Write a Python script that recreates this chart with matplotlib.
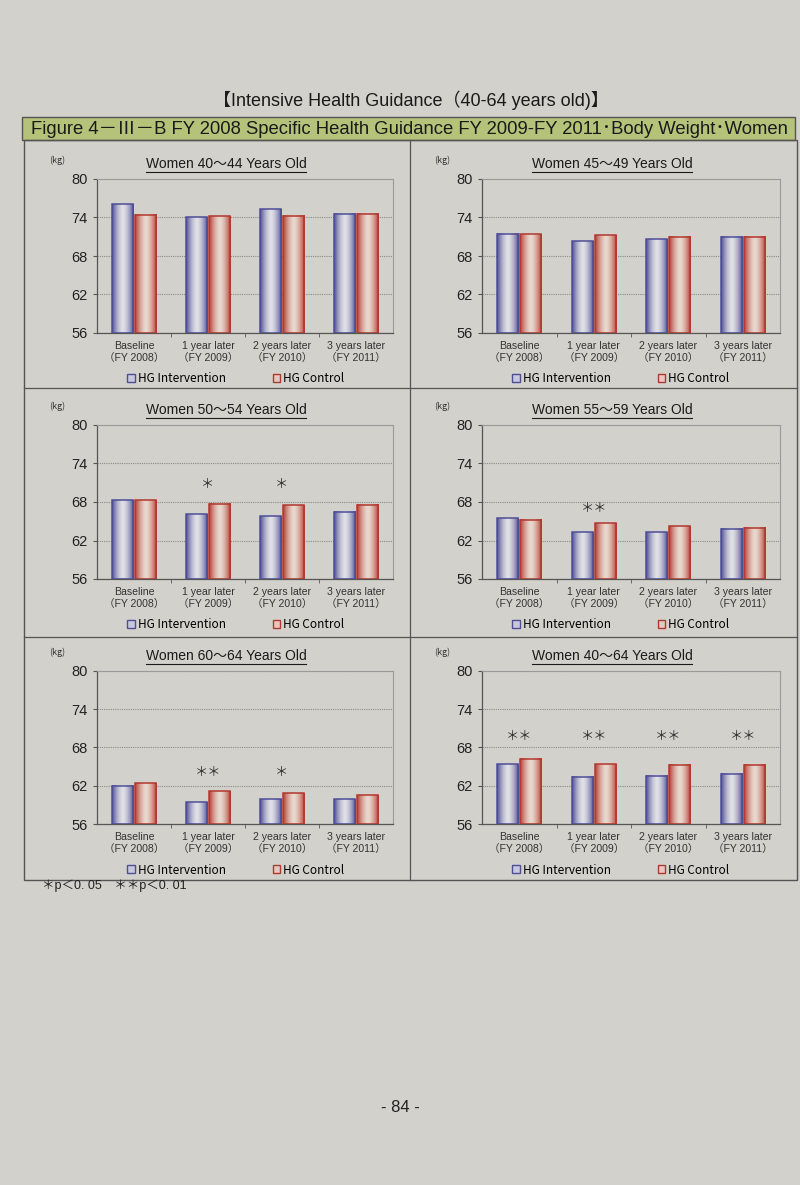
import numpy as np
import matplotlib.pyplot as plt
from matplotlib.lines import Line2D
from matplotlib.patches import Patch, Rectangle

# values (kg)
categories = ['Baseline\n（FY 2008）', '1 year later\n（FY 2009）',
              '2 years later\n（FY 2010）', '3 years later\n（FY 2011）']
titles = ['Women 40～44 Years Old', 'Women 45～49 Years Old',
          'Women 50～54 Years Old', 'Women 55～59 Years Old',
          'Women 60～64 Years Old', 'Women 40～64 Years Old']
intervention = [
    [76.1, 74.0, 75.3, 74.6],
    [71.5, 70.3, 70.6, 71.0],
    [68.3, 66.1, 65.8, 66.5],
    [65.5, 63.3, 63.3, 63.8],
    [62.0, 59.4, 59.9, 59.9],
    [65.4, 63.4, 63.6, 63.9],
]
control = [
    [74.4, 74.2, 74.3, 74.6],
    [71.4, 71.2, 71.0, 71.0],
    [68.3, 67.7, 67.5, 67.6],
    [65.2, 64.7, 64.2, 64.0],
    [62.4, 61.1, 60.8, 60.5],
    [66.2, 65.4, 65.3, 65.3],
]
significance = [
    ['', '', '', ''],
    ['', '', '', ''],
    ['', '＊', '＊', ''],
    ['', '＊＊', '', ''],
    ['', '＊＊', '＊', ''],
    ['＊＊', '＊＊', '＊＊', '＊＊'],
]
star_levels = [0, 0, 70.8, 67.0, 64.1, 69.8]
y_ticks = [56, 62, 68, 74, 80]
series_names = ['HG Intervention', 'HG Control']

page = '#d3d1cb'
W, H = 800, 1185
CJK = ['Noto Sans CJK JP', 'DejaVu Sans']
ARIAL = ['Liberation Sans', 'Noto Sans CJK JP']


def fx(x):
    return x / W


def fy(y):
    return 1 - y / H


def gradient(edge, center, n=64):
    u = np.linspace(0, 1, n)
    t = np.abs(2 * u - 1) ** 1.6
    edge = np.array(edge) / 255
    center = np.array(center) / 255
    return (center[None, :] * (1 - t[:, None]) + edge[None, :] * t[:, None])[None, :, :]


grad_int = gradient((78, 78, 150), (224, 224, 230))
grad_ctl = gradient((182, 58, 48), (232, 216, 206))
edge_int = '#4e4e98'
edge_ctl = '#b2382e'

fig = plt.figure(figsize=(8, 11.85), dpi=100, facecolor=page)
renderer = fig.canvas.get_renderer()

# heading and banner
fig.text(fx(411), fy(100), '【Intensive Health Guidance（40-64 years old)】',
         ha='center', va='center', fontsize=13, family=ARIAL, color='#1a1a1a')
fig.patches.append(Rectangle((fx(22), fy(140)), (795 - 22) / W, 23 / H,
                             transform=fig.transFigure, facecolor='#b5c27a',
                             edgecolor='#555555', lw=1))
fig.text(fx(409), fy(129),
         'Figure 4－Ⅲ－B FY 2008 Specific Health Guidance FY 2009-FY 2011･Body Weight･Women',
         ha='center', va='center', fontsize=13.3, family=ARIAL, color='#1a1a1a')

# panel frames
fig.patches.append(Rectangle((fx(24), fy(880)), (797 - 24) / W, 740 / H,
                             transform=fig.transFigure, fill=False,
                             edgecolor='#555555', lw=1))
fig.lines.append(Line2D([fx(410), fx(410)], [fy(140), fy(880)],
                        transform=fig.transFigure, color='#555555', lw=0.9))
for yy in (388, 637):
    fig.lines.append(Line2D([fx(24), fx(797)], [fy(yy), fy(yy)],
                            transform=fig.transFigure, color='#555555', lw=0.9))

cols = [(97, 393), (482, 780)]
rows = [(179, 333), (425, 579), (671, 824)]
x = np.arange(len(categories))
bw = 0.284
off = 0.155
ymin, ymax = y_ticks[0], y_ticks[-1]

for i in range(6):
    l, r = cols[i % 2]
    t, b = rows[i // 2]
    ax = fig.add_axes([fx(l), fy(b), (r - l) / W, (b - t) / H])
    ax.set_facecolor('none')
    ax.set_axisbelow(True)

    vi = np.array(intervention[i])
    vc = np.array(control[i])
    bars_i = ax.bar(x - off, vi - ymin, bw, bottom=ymin, facecolor='none',
                    edgecolor=edge_int, lw=1.1, zorder=3)
    bars_c = ax.bar(x + off, vc - ymin, bw, bottom=ymin, facecolor='none',
                    edgecolor=edge_ctl, lw=1.1, zorder=3)
    for bars, g in ((bars_i, grad_int), (bars_c, grad_ctl)):
        for p in bars:
            x0, y0, w, h = p.get_x(), p.get_y(), p.get_width(), p.get_height()
            ax.imshow(g, extent=[x0, x0 + w, y0, y0 + h], aspect='auto',
                      interpolation='bilinear', zorder=2)

    ax.set_xlim(-0.5, len(categories) - 0.5)
    ax.set_ylim(ymin, ymax)
    ax.set_yticks(y_ticks)
    ax.set_yticklabels([str(v) for v in y_ticks], family=ARIAL, fontsize=10.5,
                       color='#222222')
    ax.set_xticks(x)
    ax.set_xticklabels(categories, family=ARIAL, fontsize=7.6,
                       color='#333333', linespacing=1.25)
    ax.set_xticks(x[:-1] + 0.5, minor=True)
    ax.tick_params(axis='x', which='major', length=0, pad=6)
    ax.tick_params(axis='x', which='minor', length=3, color='#555555')
    ax.tick_params(axis='y', length=3, color='#555555', pad=4)
    ax.yaxis.grid(True, linestyle=(0, (1, 1)), color='#8a8a8a', lw=0.8)
    for s in ('left', 'bottom'):
        ax.spines[s].set_color('#555555')
        ax.spines[s].set_linewidth(0.9)
    for s in ('top', 'right'):
        ax.spines[s].set_color('#9a9a9a')
        ax.spines[s].set_linewidth(0.8)

    for k, s in enumerate(significance[i]):
        if s:
            ax.text(x[k], star_levels[i], s, ha='center', va='center',
                    fontsize=9.5, family=CJK, color='#333333')

    # title with underline
    tt = fig.text(fx((l + r) / 2 - 19), fy(t - 15), titles[i], ha='center',
                  va='center', fontsize=10, family=ARIAL, color='#1a1a1a')
    bb = tt.get_window_extent(renderer=renderer)
    fig.lines.append(Line2D([bb.x0 / fig.bbox.width, bb.x1 / fig.bbox.width],
                            [fy(t - 7.5), fy(t - 7.5)],
                            transform=fig.transFigure, color='#1a1a1a', lw=0.8))
    fig.text(fx(l - 40), fy(t - 19), '(kg)', ha='center', va='center',
             fontsize=6.5, family=CJK, color='#333333')

    handles = [Patch(facecolor='#c8c8dc', edgecolor=edge_int, lw=1),
               Patch(facecolor='#e6c8c0', edgecolor=edge_ctl, lw=1)]
    ax.legend(handles, series_names, loc='center left', ncol=2,
              bbox_to_anchor=(fx(l + 24), fy(b + 46)),
              bbox_transform=fig.transFigure, frameon=False,
              handlelength=0.65, handleheight=0.65, handletextpad=0.25,
              columnspacing=4.0, borderpad=0,
              prop={'family': CJK, 'size': 8.5})

fig.text(fx(42), fy(886), '＊p＜0. 05　＊＊p＜0. 01', ha='left', va='center',
         fontsize=9, family=ARIAL, color='#222222')
fig.text(fx(400), fy(1107), '- 84 -', ha='center', va='center',
         fontsize=12, family=ARIAL, color='#222222')

fig.savefig('out.png', dpi=100, facecolor=page)
